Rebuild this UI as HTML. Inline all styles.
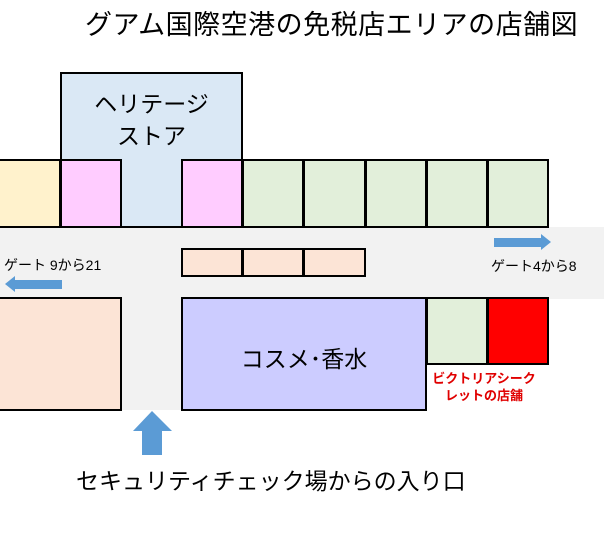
<!DOCTYPE html>
<html><head><meta charset="utf-8"><style>
body{margin:0;width:604px;height:541px;background:#fff;position:relative;overflow:hidden;font-family:"Liberation Sans","Noto Sans CJK JP",sans-serif}
.b{position:absolute;box-sizing:border-box;border:2px solid #000}
.t{position:absolute;white-space:nowrap;color:#000}
</style></head><body>
<div style="position:absolute;left:0;top:227px;width:604px;height:72px;background:#f2f2f2"></div>
<div style="position:absolute;left:121px;top:298px;width:60px;height:112px;background:#f2f2f2"></div>
<div class="t" style="left:85px;top:3px;font-size:27px;letter-spacing:0.5px">グアム国際空港の免税店エリアの店舗図</div>
<div class="b" style="left:60px;top:72px;width:183px;height:156px;background:#dae8f5"></div>
<div class="t" style="left:60px;top:88px;width:183px;text-align:center;font-size:23px;line-height:32px;white-space:normal">ヘリテージ<br>ストア</div>
<div class="b" style="left:-2px;top:159px;width:63px;height:69px;background:#fff2cc;border-left:none"></div>
<div class="b" style="left:60px;top:159px;width:62px;height:69px;background:#ffccff"></div>
<div class="b" style="left:181px;top:159px;width:62px;height:69px;background:#ffccff"></div>
<div class="b" style="left:242px;top:159px;width:62px;height:69px;background:#e2efda"></div>
<div class="b" style="left:303px;top:159px;width:63px;height:69px;background:#e2efda"></div>
<div class="b" style="left:365px;top:159px;width:62px;height:69px;background:#e2efda"></div>
<div class="b" style="left:426px;top:159px;width:62px;height:69px;background:#e2efda"></div>
<div class="b" style="left:487px;top:159px;width:62px;height:69px;background:#e2efda"></div>
<div class="b" style="left:181px;top:248px;width:62px;height:29px;background:#fce4d6"></div>
<div class="b" style="left:242px;top:248px;width:62px;height:29px;background:#fce4d6"></div>
<div class="b" style="left:303px;top:248px;width:63px;height:29px;background:#fce4d6"></div>
<div class="b" style="left:-2px;top:297px;width:124px;height:114px;background:#fce4d6"></div>
<div class="b" style="left:181px;top:297px;width:246px;height:114px;background:#ccccff"></div>
<div class="t" style="left:181px;top:340px;width:246px;text-align:center;font-size:23px">コスメ･香水</div>
<div class="b" style="left:426px;top:297px;width:62px;height:68px;background:#e2efda"></div>
<div class="b" style="left:487px;top:297px;width:62px;height:68px;background:#ff0000"></div>
<div class="t" style="left:428px;top:370px;width:112px;text-align:center;font-size:13px;line-height:17px;color:#e00000;font-weight:bold">ビクトリアシーク<br>レットの店舗</div>
<div class="t" style="left:4px;top:255px;font-size:14px">ゲート 9から21</div>
<div class="t" style="left:491px;top:256px;font-size:14px">ゲート4から8</div>
<svg style="position:absolute;left:0;top:0" width="604" height="541">
<polygon points="5,284 15,276 15,280 62,280 62,289 15,289 15,292" fill="#5b9bd5"/>
<polygon points="551,242 541,234 541,238 494,238 494,247 541,247 541,250" fill="#5b9bd5"/>
<polygon points="152,411 133,431 142,431 142,455 162,455 162,431 172,431" fill="#5b9bd5"/>
</svg>
<div class="t" style="left:76px;top:462px;font-size:23px">セキュリティチェック場からの入り口</div>
</body></html>
